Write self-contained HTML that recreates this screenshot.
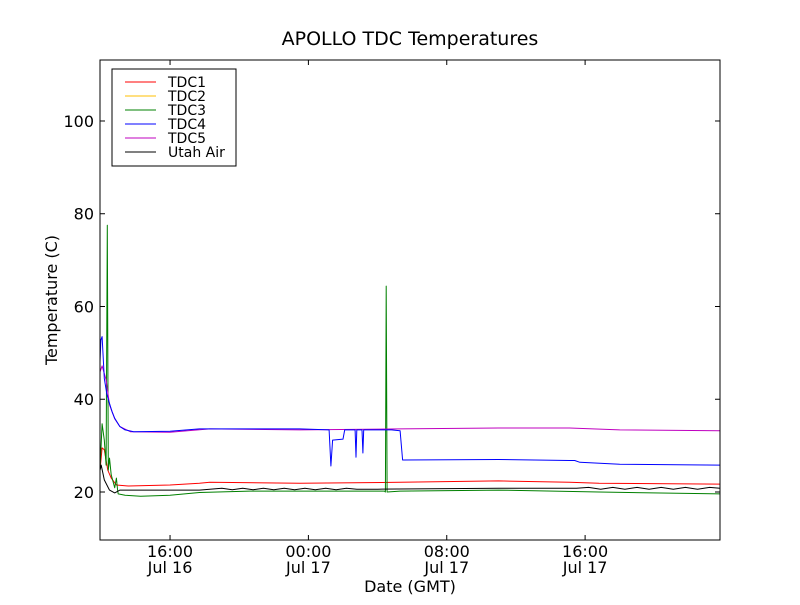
<!DOCTYPE html>
<html><head><meta charset="utf-8">
<style>
body{margin:0;background:#fff;}
svg text{font-family:"DejaVu Sans","Liberation Sans",sans-serif;fill:#000;}
</style></head>
<body>
<svg id="chart" width="800" height="600" viewBox="0 0 800 600">
<rect width="800" height="600" fill="#fff"/>
<text x="410" y="45" font-size="19" text-anchor="middle">APOLLO TDC Temperatures</text>
<g id="marks"></g>
<rect x="100" y="60" width="620" height="480" fill="none" stroke="#000" stroke-width="1"/>
<g id="axes"></g>
<text x="410" y="592" font-size="16" text-anchor="middle">Date (GMT)</text>
<text transform="translate(57,300) rotate(-90)" font-size="16" text-anchor="middle">Temperature (C)</text>
<g id="legend">
<rect x="112" y="69" width="124" height="97" fill="#fff" stroke="#000" stroke-width="1"/>
</g>
</svg>
<script>
// hours since Jul 16 00:00
const xMin = 11.95, xMax = 47.8, yMin = 9.65, yMax = 113.15;
const tickHours = [16, 24, 32, 40];
const tickTime = ["16:00", "00:00", "08:00", "16:00"];
const tickDate = ["Jul 16", "Jul 17", "Jul 17", "Jul 17"];
const yTicks = [20, 40, 60, 80, 100];
const seriesNames = ["TDC1", "TDC2", "TDC3", "TDC4", "TDC5", "Utah Air"];
const seriesColors = ["#ff0000", "#ffbf00", "#008000", "#0000ff", "#bf00bf", "#000000"];

const t4 = [11.95,12.0,12.07,12.2,12.35,12.5,12.65,12.8,13.1,13.4,13.9,16.0,17.7,20.6,23.5,25.2,25.3,25.4,26.0,26.1,26.7,26.75,26.8,27.1,27.15,27.2,28.4,28.8,29.3,29.45,35.0,39.1,39.4,39.7,42.0,47.8];
const v4 = [48,52.8,53.5,44.5,41.0,39.1,37.3,35.9,34.1,33.4,33.0,33.1,33.6,33.6,33.6,33.4,25.6,31.2,31.4,33.4,33.4,27.5,33.4,33.4,28.4,33.4,33.4,33.4,33.2,26.9,27.0,26.8,26.8,26.4,26.0,25.8];
const t5 = [11.95,12.07,12.3,12.5,12.8,13.1,13.7,16.0,18.3,23.5,29.3,35.0,39.1,42.0,47.8];
const v5 = [45.9,47.2,44.2,38.8,35.8,34.1,33.0,32.9,33.6,33.4,33.6,33.8,33.8,33.4,33.2];
const t1 = [11.95,12.07,12.2,12.4,12.6,12.9,13.6,16.0,17.7,18.3,23.5,29.3,35.0,39.1,40.8,47.8];
const v1 = [24.7,29.5,29.1,24.7,23.0,21.5,21.3,21.5,21.9,22.1,21.9,22.1,22.4,22.1,21.9,21.7];
const t3 = [11.95,12.07,12.2,12.3,12.37,12.43,12.5,12.6,12.8,12.9,12.97,13.0,13.4,14.3,16.0,17.7,20.6,28.4,28.45,28.5,28.55,29.3,35.0,40.8,47.8];
const v3 = [24.7,34.7,31.2,25.8,77.5,24.7,27.3,23.7,20.9,23.0,20.4,19.6,19.3,19.1,19.3,19.9,20.2,20.2,20.0,64.4,20.0,20.2,20.4,20.0,19.6];
const tA = [11.95,12.02,12.2,12.5,12.8,13.1,13.7,17.7,18.3,19.0,19.6,20.2,20.8,21.4,22.0,22.6,23.2,23.8,24.4,25.0,25.6,26.2,26.8,27.4,28.0,35.0,39.5,40.2,40.9,41.6,42.3,43.0,43.7,44.4,45.1,45.8,46.5,47.2,47.8];
const vA = [24.7,25.8,22.6,20.4,19.8,20.4,20.4,20.4,20.6,20.8,20.5,20.8,20.5,20.8,20.5,20.8,20.5,20.8,20.5,20.8,20.5,20.8,20.6,20.6,20.6,20.8,20.8,21.0,20.6,21.0,20.6,21.0,20.6,21.0,20.6,21.0,20.6,21.0,20.8];
const seriesT = [t1, t1, t3, t4, t5, tA];
const seriesV = [v1, v1, v3, v4, v5, vA];

const NS = "http://www.w3.org/2000/svg";
const X = h => 100 + (h - xMin) / (xMax - xMin) * 620;
const Y = v => 540 - (v - yMin) / (yMax - yMin) * 480;

const marks = document.getElementById('marks');
const drawOrder = [1, 0, 2, 5, 4, 3];
drawOrder.forEach(i => {
  if (i === 1) return; // TDC2 has no visible data
  const p = document.createElementNS(NS, 'polyline');
  p.setAttribute('points', seriesT[i].map((t, k) => X(t).toFixed(1) + ',' + Y(seriesV[i][k]).toFixed(1)).join(' '));
  p.setAttribute('fill', 'none');
  p.setAttribute('stroke', seriesColors[i]);
  p.setAttribute('stroke-width', '1');
  p.setAttribute('stroke-linejoin', 'round');
  
  
  marks.appendChild(p);
});

const axes = document.getElementById('axes');
function line(x1, y1, x2, y2, name) {
  const l = document.createElementNS(NS, 'line');
  l.setAttribute('x1', x1); l.setAttribute('y1', y1); l.setAttribute('x2', x2); l.setAttribute('y2', y2);
  l.setAttribute('stroke', '#000'); l.setAttribute('stroke-width', '1');
  
  
  axes.appendChild(l);
}
function text(x, y, s, anchor, name) {
  const t = document.createElementNS(NS, 'text');
  t.setAttribute('x', x); t.setAttribute('y', y); t.setAttribute('font-size', '16');
  t.setAttribute('text-anchor', anchor); t.textContent = s;
  
  
  axes.appendChild(t);
}
tickHours.forEach((h, i) => {
  const x = X(h);
  line(x, 540, x, 535, 'x-tick');
  line(x, 60, x, 65, 'x-tick-top');
  text(x, 557, tickTime[i], 'middle', 'x-tick-label');
  text(x, 573, tickDate[i], 'middle', 'x-tick-date');
});
yTicks.forEach(v => {
  const y = Y(v);
  line(100, y, 105, y, 'y-tick');
  line(720, y, 715, y, 'y-tick-right');
  text(94, y + 6, String(v), 'end', 'y-tick-label');
});

const legend = document.getElementById('legend');
seriesNames.forEach((n, i) => {
  const y = 82 + i * 14;
  const g = document.createElementNS(NS, 'g');
  
  
  const l = document.createElementNS(NS, 'line');
  l.setAttribute('x1', 125); l.setAttribute('x2', 156); l.setAttribute('y1', y); l.setAttribute('y2', y);
  l.setAttribute('stroke', seriesColors[i]); l.setAttribute('stroke-width', '1');
  
  
  const t = document.createElementNS(NS, 'text');
  t.setAttribute('x', 168); t.setAttribute('y', y + 5); t.setAttribute('font-size', '14');
  t.textContent = n;
  
  
  g.appendChild(l); g.appendChild(t);
  legend.appendChild(g);
});
</script>
</body></html>
